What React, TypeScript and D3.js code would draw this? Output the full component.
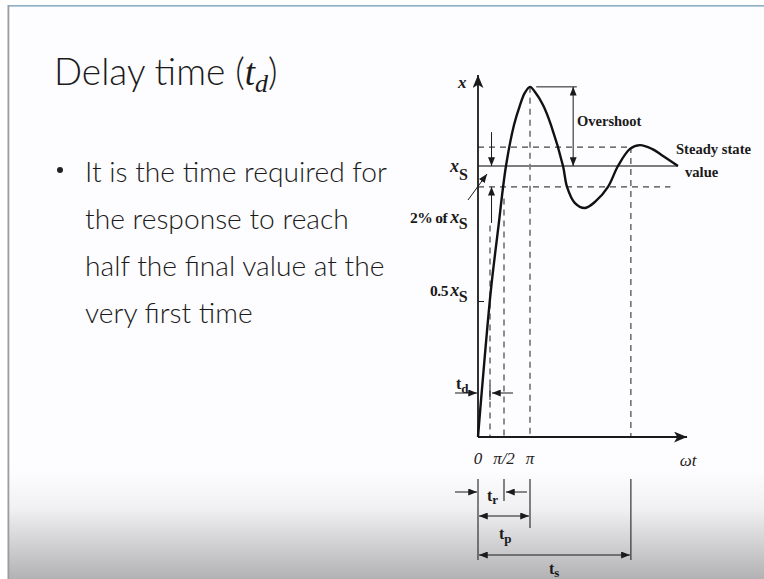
import React from "react";
import * as d3 from "d3";

// Response curve samples: ωt in multiples of π, x in multiples of the steady-state value xs
const curveT = [0, 0.07, 0.244, 0.385, 0.538, 0.692, 0.808, 0.9, 1.0, 1.1, 1.25, 1.404, 1.635, 1.712, 1.865, 2.058, 2.269, 2.5, 2.692, 2.923, 3.115, 3.346, 3.558, 3.846];
const curveX = [0, 0.162, 0.535, 0.764, 1.0, 1.151, 1.225, 1.27, 1.292, 1.272, 1.225, 1.151, 1.0, 0.923, 0.863, 0.845, 0.871, 0.923, 1.0, 1.063, 1.077, 1.063, 1.037, 1.0];

// Tolerance band around the steady-state value
const bandUpper = 1.07;
const bandLower = 0.923;
const steadyState = 1.0;
const peakValue = 1.292;

// Characteristic times (multiples of π)
const tDelay = 0.231;
const tRise = 0.5;
const tPeak = 1.0;
const tSettle = 2.94;

const tickValues = [0, 0.5, 1];
const tickLabels = ["0", "π/2", "π"];

const bulletLines = [
  "It is the time required for",
  "the response to reach",
  "half the final value at the",
  "very first time",
];

const W = 764;
const H = 579;

const serif = "'Liberation Serif', 'DejaVu Serif', serif";
const sans = "Lato, 'Open Sans', 'Liberation Sans', sans-serif";

export default function App() {
  const x = d3.scaleLinear().domain([0, 1]).range([478, 530]);
  const y = d3.scaleLinear().domain([0, 1]).range([437, 166]);

  const pts: [number, number][] = curveT.map((t, i) => [t, curveX[i]]);
  const line = d3
    .line<[number, number]>()
    .x((d) => x(d[0]))
    .y((d) => y(d[1]))
    .curve(d3.curveCatmullRom.alpha(0.5));

  const x0 = x(0);
  const y0 = y(0);
  const axisTop = y(1.336);
  const axisRight = x(4.02);

  const dash = "6,5";
  const ink = "#1a1a1a";

  return (
    <svg
      width={W}
      height={H}
      style={{ position: "absolute", left: 0, top: 0, display: "block" }}
      xmlns="http://www.w3.org/2000/svg"
    >
      <defs>
        <linearGradient id="slideFade" x1="0" y1="0" x2="0" y2="1">
          <stop offset="0" stopColor="#fdfcfe" />
          <stop offset="0.35" stopColor="#f1f0f2" />
          <stop offset="1" stopColor="#b2b1b3" />
        </linearGradient>
        <marker
          id="ah"
          viewBox="0 0 10 8"
          refX="10"
          refY="4"
          markerWidth="9"
          markerHeight="7"
          markerUnits="userSpaceOnUse"
          orient="auto-start-reverse"
        >
          <path d="M0,0 L10,4 L0,8 z" fill={ink} />
        </marker>
        <marker
          id="ahBig"
          viewBox="0 0 12 10"
          refX="12"
          refY="5"
          markerWidth="13"
          markerHeight="11"
          markerUnits="userSpaceOnUse"
          orient="auto-start-reverse"
        >
          <path d="M0,0 L12,5 L0,10 L3,5 z" fill={ink} />
        </marker>
      </defs>

      {/* slide background */}
      <rect x={0} y={0} width={W} height={H} fill="#ffffff" />
      <rect x={8} y={5} width={W - 8} height={H - 5} fill="#fdfcfe" />
      <rect x={8} y={470} width={W - 8} height={H - 470} fill="url(#slideFade)" />
      <rect x={8} y={5} width={W - 8} height={1.6} fill="#8eaec2" />
      <rect x={7.5} y={5} width={1.8} height={H - 5} fill="#9c9b9d" />

      {/* title */}
      <text x={54} y={85} fontFamily={sans} fontWeight={300} fontSize={37} fill="#1b1b1b">
        Delay time (
        <tspan fontFamily={serif} fontStyle="italic" fontWeight={400}>t</tspan>
        <tspan fontFamily={serif} fontStyle="italic" fontWeight={400} fontSize={26} dy={7}>d</tspan>
        <tspan dy={-7}>)</tspan>
      </text>

      {/* bullet */}
      <circle cx={60} cy={170} r={3} fill="#222" />
      {bulletLines.map((s, i) => (
        <text
          key={i}
          x={85}
          y={182 + i * 47}
          fontFamily={sans}
          fontWeight={300}
          fontSize={28.2}
          fill="#1b1b1b"
        >
          {s}
        </text>
      ))}

      {/* dashed guides */}
      <g stroke="#444" strokeWidth={1.2} strokeDasharray={dash} fill="none">
        <line x1={x0} x2={x(2.94)} y1={y(bandUpper)} y2={y(bandUpper)} />
        <line x1={x0} x2={x(3.7)} y1={y(bandLower)} y2={y(bandLower)} />
        <line x1={x(tDelay)} x2={x(tDelay)} y1={y(0.78)} y2={y0} />
        <line x1={x(tRise)} x2={x(tRise)} y1={y(0.88)} y2={y0} />
        <line x1={x(tPeak)} x2={x(tPeak)} y1={y(peakValue)} y2={y0} />
        <line x1={x(tSettle)} x2={x(tSettle)} y1={y(bandUpper)} y2={y0} />
      </g>

      {/* steady-state level */}
      <line x1={x0} x2={x(3.846)} y1={y(steadyState)} y2={y(steadyState)} stroke="#7d7d7d" strokeWidth={2} />

      {/* axes */}
      <line x1={x0} x2={x0} y1={y0} y2={axisTop} stroke={ink} strokeWidth={1.8} markerEnd="url(#ahBig)" />
      <line x1={x0} x2={axisRight} y1={y0} y2={y0} stroke={ink} strokeWidth={1.8} markerEnd="url(#ahBig)" />
      <line x1={x0} x2={x0 + 6} y1={y(0.5)} y2={y(0.5)} stroke={ink} strokeWidth={1} />

      {/* response */}
      <path d={line(pts) || ""} fill="none" stroke="#111" strokeWidth={2.4} />

      {/* overshoot */}
      <line x1={x(1.12)} x2={x(1.9)} y1={y(peakValue)} y2={y(peakValue)} stroke={ink} strokeWidth={1} />
      <line
        x1={x(1.83)}
        x2={x(1.83)}
        y1={y(peakValue)}
        y2={y(steadyState)}
        stroke={ink}
        strokeWidth={1}
        markerStart="url(#ah)"
        markerEnd="url(#ah)"
      />
      <text x={577} y={126} fontFamily={serif} fontWeight={700} fontSize={14.5} fill={ink}>
        Overshoot
      </text>

      {/* tolerance band arrows */}
      <line x1={x(0.26)} x2={x(0.26)} y1={y(1.125)} y2={y(steadyState)} stroke={ink} strokeWidth={1} markerEnd="url(#ah)" />
      <line x1={x(0.26)} x2={x(0.26)} y1={y(0.79)} y2={y(bandLower)} stroke={ink} strokeWidth={1} markerEnd="url(#ah)" />
      <line x1={468} y1={200} x2={487} y2={174} stroke={ink} strokeWidth={1} markerEnd="url(#ah)" />

      {/* y labels */}
      <text x={458} y={88} fontFamily={serif} fontStyle="italic" fontWeight={700} fontSize={17} fill={ink}>x</text>
      <text x={450} y={172} fontFamily={serif} fontWeight={700} fontSize={18} fill={ink}>
        <tspan fontStyle="italic">x</tspan>
        <tspan dy={8} fontSize={16}>S</tspan>
      </text>
      <text x={410} y={223} fontFamily={serif} fontWeight={700} fontSize={15.5} fill={ink} letterSpacing={-0.6}>
        2% of <tspan fontStyle="italic" fontSize={18}>x</tspan>
        <tspan dy={6} fontSize={16}>S</tspan>
      </text>
      <text x={430} y={296} fontFamily={serif} fontWeight={700} fontSize={15.5} fill={ink} letterSpacing={-0.4}>
        0.5<tspan dx={2} fontStyle="italic" fontSize={18}>x</tspan>
        <tspan dy={6} fontSize={16}>S</tspan>
      </text>
      <text x={456} y={389} fontFamily={serif} fontWeight={700} fontSize={16} fill={ink}>
        t<tspan dy={4} fontSize={13}>d</tspan>
      </text>

      {/* delay-time arrows */}
      <line x1={455} x2={x0 - 1} y1={393} y2={393} stroke={ink} strokeWidth={1} markerEnd="url(#ah)" />
      <line x1={513} x2={x(tDelay) + 2} y1={393} y2={393} stroke={ink} strokeWidth={1} markerEnd="url(#ah)" />
      <line x1={x(tDelay)} x2={x(tDelay)} y1={385} y2={400} stroke={ink} strokeWidth={1} />

      {/* steady state text */}
      <text x={676} y={154} fontFamily={serif} fontWeight={700} fontSize={14.6} fill={ink}>Steady state</text>
      <text x={685} y={177} fontFamily={serif} fontWeight={700} fontSize={14.6} fill={ink}>value</text>

      {/* x tick labels */}
      {tickValues.map((v, i) => (
        <text
          key={i}
          x={x(v)}
          y={464}
          textAnchor="middle"
          fontFamily={serif}
          fontStyle="italic"
          fontSize={17}
          fill="#222"
        >
          {tickLabels[i]}
        </text>
      ))}
      <text x={688} y={466} textAnchor="middle" fontFamily={serif} fontStyle="italic" fontSize={17} fill="#222">ωt</text>

      {/* time intervals below the axis */}
      <g stroke="#333" strokeWidth={1.2}>
        <line x1={x0} x2={x0} y1={479} y2={560} />
        <line x1={x(tRise)} x2={x(tRise)} y1={479} y2={501} />
        <line x1={x(tPeak)} x2={x(tPeak)} y1={479} y2={528} />
        <line x1={x(tSettle)} x2={x(tSettle)} y1={479} y2={560} />
      </g>
      <line x1={455} x2={x0 - 1} y1={492} y2={492} stroke={ink} strokeWidth={1} markerEnd="url(#ah)" />
      <line x1={527} x2={x(tRise) + 2} y1={492} y2={492} stroke={ink} strokeWidth={1} markerEnd="url(#ah)" />
      <line x1={x0 + 1} x2={x(tPeak) - 1} y1={516} y2={516} stroke={ink} strokeWidth={1} markerStart="url(#ah)" markerEnd="url(#ah)" />
      <line x1={x0 + 1} x2={x(tSettle) - 1} y1={555} y2={555} stroke={ink} strokeWidth={1} markerStart="url(#ah)" markerEnd="url(#ah)" />

      <text x={487} y={501} fontFamily={serif} fontWeight={700} fontSize={16} fill={ink}>
        t<tspan dy={3} fontSize={13}>r</tspan>
      </text>
      <text x={499} y={539} fontFamily={serif} fontWeight={700} fontSize={16} fill={ink}>
        t<tspan dy={4} fontSize={13}>p</tspan>
      </text>
      <text x={549} y={574} fontFamily={serif} fontWeight={700} fontSize={16} fill={ink}>
        t<tspan dy={3} fontSize={13}>s</tspan>
      </text>
    </svg>
  );
}
